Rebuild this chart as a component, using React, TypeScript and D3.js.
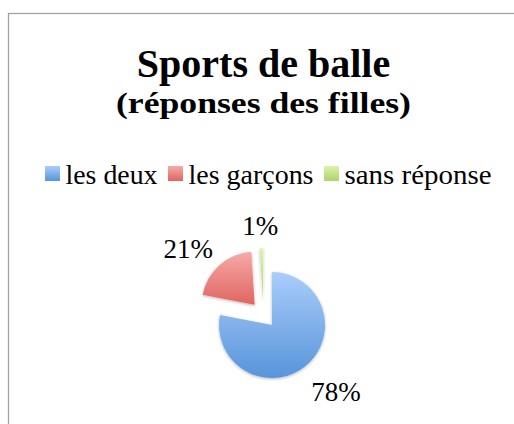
import React from 'react';
import * as d3 from 'd3';

// chart data
const categories = ['les deux', 'les garçons', 'sans réponse'];
const values = [78, 21, 1];
const percentLabels = ['78%', '21%', '1%'];
const title = 'Sports de balle';
const subtitle = '(réponses des filles)';

// colours: [light top, dark bottom]
const sliceColors = [
  ['#aacdfb', '#5894da'],
  ['#f7aaa7', '#df6560'],
  ['#dbf3aa', '#b0d26a'],
];

const W = 514;
const H = 424;
const font = '"Liberation Serif", "Times New Roman", serif';

// layout
const cx = 263.5;
const cy = 314.7;
const radius = 53;
const explode = 13.4;
const labelPad = 18;
const legendX = 45;
const legendBaseline = 184;
const swatch = 15;
// legend text widths (Cambria is wider than Liberation, so stretch a bit)
const legendTextWidths = [92, 125, 147];

const App = () => {
  const pie = d3.pie<number>().sort(null).value((d) => d);
  const arcs = pie(values);
  const arc = d3.arc<d3.PieArcDatum<number>>().innerRadius(0).outerRadius(radius);

  // legend item x positions
  let x = legendX;
  const legendItems = categories.map((c, i) => {
    const item = { c, i, sx: x, tx: x + swatch + 5.5 };
    x = item.tx + legendTextWidths[i] + 10.5;
    return item;
  });

  return (
    <svg width={W} height={H} style={{ position: 'absolute', left: 0, top: 0, display: 'block' }}>
      <defs>
        {sliceColors.map((c, i) => (
          <linearGradient key={i} id={`grad${i}`} x1="0" y1="0" x2="0" y2="1">
            <stop offset="0%" stopColor={c[0]} />
            <stop offset="100%" stopColor={c[1]} />
          </linearGradient>
        ))}
        <filter id="shadow" x="-20%" y="-20%" width="140%" height="140%">
          <feDropShadow dx="0" dy="1" stdDeviation="1.8" floodColor="#000" floodOpacity="0.3" />
        </filter>
      </defs>
      <rect x={0} y={0} width={W} height={H} fill="#fff" />
      {/* chart frame, cut off on the right and bottom */}
      <rect x={8.5} y={13.5} width={W + 20} height={H + 20} fill="none" stroke="#a3a3a3" strokeWidth={1.3} />

      <text x={cx} y={77} textAnchor="middle" fontFamily={font} fontWeight="bold" fontSize={40} fill="#000">
        {title}
      </text>
      <text x={cx} y={113} textAnchor="middle" fontFamily={font} fontWeight="bold" fontSize={30}
        textLength={295} lengthAdjust="spacingAndGlyphs" fill="#000">
        {subtitle}
      </text>

      {legendItems.map((it) => (
        <g key={it.c}>
          <rect x={it.sx} y={legendBaseline - 18} width={swatch} height={swatch} fill={`url(#grad${it.i})`} />
          <text x={it.tx} y={legendBaseline} fontFamily={font} fontSize={27} fill="#000"
            textLength={legendTextWidths[it.i]} lengthAdjust="spacingAndGlyphs">
            {it.c}
          </text>
        </g>
      ))}

      <g filter="url(#shadow)">
        {arcs.map((a, i) => {
          const mid = (a.startAngle + a.endAngle) / 2;
          const ox = cx + explode * Math.sin(mid);
          const oy = cy - explode * Math.cos(mid);
          return (
            <path key={i} d={arc(a) || ''} transform={`translate(${ox},${oy})`} fill={`url(#grad${i})`} />
          );
        })}
      </g>

      {arcs.map((a, i) => {
        const mid = (a.startAngle + a.endAngle) / 2;
        const sx = Math.sin(mid);
        const sy = -Math.cos(mid);
        const rr = radius + explode + labelPad;
        // label box: text width plus padding, cap height
        const hw = (percentLabels[i].length * 13.5 + 2) / 2 + 8;
        const hh = 9.25;
        const lx = cx + rr * sx + hw * sx;
        const ly = cy + rr * sy + hh * sy;
        return (
          <text key={i} x={lx} y={ly + 13.75} textAnchor="middle" fontFamily={font} fontSize={27} fill="#000">
            {percentLabels[i]}
          </text>
        );
      })}
    </svg>
  );
};

export default App;
